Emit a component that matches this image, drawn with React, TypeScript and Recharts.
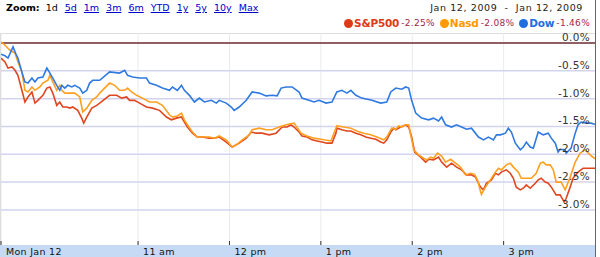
import React from "react";
import { LineChart, Line, XAxis, YAxis, CartesianGrid, ReferenceLine } from "recharts";

// minutes since 9:30 and % change
const spTime = [0,2.6,4.6,7.2,9.2,11.1,13.7,15.7,17.7,20.3,22.3,24.2,27.5,30.1,32.1,34.0,36.6,38.6,40.6,43.2,45.2,47.1,50.4,53.0,54.3,56.3,59.6,62.8,64.8,71.3,75.9,79.2,82.5,84.4,87.7,91.0,95.5,99.5,104.1,108.6,111.9,115.2,118.5,120.4,122.4,125.7,128.9,132.2,136.8,140.1,143.3,147.9,151.8,156.4,161.0,164.3,167.5,171.5,176.0,180.6,184.6,187.8,190.4,192.4,195.7,197.6,200.9,204.2,207.5,210.7,214.0,217.3,219.9,220.5,223.8,227.1,229.7,233.0,236.3,239.5,242.8,246.1,249.3,251.3,253.3,255.9,257.9,259.2,262.4,265.7,267.7,269.6,271.6,275.5,278.8,280.8,284.0,287.3,289.3,292.6,295.8,299.1,302.4,305.6,308.9,311.5,314.8,316.8,318.7,322.0,324.6,326.6,328.5,331.8,334.4,336.4,338.3,341.0,342.9,344.9,347.5,350.8,352.7,354.7,357.3,359.3,361.3,364.5,367.1,369.8,371.1,373.7,375.6,378.9,382.2,385.5,390];
const spPct = [-0.27,-0.34,-0.45,-0.43,-0.49,-0.58,-0.85,-1.06,-0.97,-0.88,-1.08,-1.03,-0.94,-0.81,-0.79,-0.90,-1.12,-1.06,-1.15,-1.15,-1.17,-1.15,-1.21,-1.35,-1.44,-1.33,-1.17,-1.12,-1.08,-0.94,-0.94,-0.99,-0.97,-1.03,-1.03,-1.08,-1.15,-1.17,-1.21,-1.33,-1.38,-1.35,-1.33,-1.42,-1.51,-1.62,-1.69,-1.69,-1.71,-1.71,-1.69,-1.78,-1.87,-1.80,-1.71,-1.60,-1.62,-1.62,-1.65,-1.62,-1.51,-1.51,-1.47,-1.51,-1.60,-1.67,-1.69,-1.74,-1.76,-1.78,-1.80,-1.80,-1.62,-1.53,-1.56,-1.58,-1.58,-1.62,-1.65,-1.69,-1.71,-1.73,-1.78,-1.80,-1.74,-1.60,-1.53,-1.56,-1.51,-1.47,-1.51,-1.69,-1.96,-2.05,-2.14,-2.09,-2.10,-2.05,-2.14,-2.23,-2.16,-2.23,-2.28,-2.37,-2.37,-2.41,-2.59,-2.64,-2.52,-2.46,-2.34,-2.37,-2.32,-2.28,-2.34,-2.43,-2.59,-2.64,-2.61,-2.55,-2.61,-2.52,-2.46,-2.43,-2.50,-2.52,-2.59,-2.73,-2.73,-2.86,-2.79,-2.59,-2.43,-2.32,-2.25,-2.25,-2.25];

const nasdTime = [0,2.6,5.9,9.2,11.1,13.7,15.7,17.7,20.3,22.3,25.5,27.5,30.8,32.1,34.0,36.6,38.6,39.9,41.9,45.2,48.4,51.7,53.7,56.3,59.6,62.8,64.8,71.3,74.6,77.9,81.2,83.1,85.7,89.0,92.9,97.5,102.1,106.0,110.6,112.6,115.8,118.5,120.4,122.4,125.7,128.9,132.2,136.8,140.1,143.3,147.9,151.8,154.5,158.4,163.0,164.9,169.5,174.1,178.0,182.6,187.2,192.4,197.0,200.9,205.5,210.1,216.6,220.5,225.1,229.7,233.6,238.2,242.8,246.7,251.3,253.3,256.5,259.2,261.1,263.1,265.7,267.7,269.0,271.0,274.2,277.5,279.5,282.1,284.0,286.6,289.3,291.9,295.2,298.4,301.7,305.0,308.2,310.9,312.8,315.4,318.1,321.3,324.6,326.6,328.5,331.8,334.4,336.4,339.7,341.6,344.9,348.2,351.4,354.1,356.0,358.0,360.6,362.6,364.5,367.8,370.4,373.7,377.0,380.2,383.5,386.8,390];
const nasdPct = [0.02,-0.04,-0.13,-0.18,-0.34,-0.52,-0.85,-0.88,-0.79,-0.85,-0.79,-0.72,-0.67,-0.58,-0.70,-0.85,-0.76,-0.85,-0.90,-0.90,-0.90,-0.97,-1.24,-1.17,-1.03,-0.97,-0.90,-0.72,-0.76,-0.85,-0.85,-0.81,-0.88,-0.94,-0.99,-1.06,-1.06,-1.12,-1.29,-1.33,-1.31,-1.26,-1.38,-1.47,-1.60,-1.69,-1.69,-1.69,-1.71,-1.67,-1.74,-1.87,-1.83,-1.74,-1.65,-1.56,-1.53,-1.56,-1.56,-1.51,-1.47,-1.44,-1.62,-1.67,-1.71,-1.73,-1.76,-1.49,-1.51,-1.53,-1.58,-1.62,-1.65,-1.69,-1.74,-1.69,-1.53,-1.55,-1.49,-1.51,-1.47,-1.47,-1.65,-1.92,-2.01,-2.07,-2.10,-2.05,-2.07,-1.98,-2.03,-2.14,-2.09,-2.16,-2.23,-2.37,-2.34,-2.36,-2.46,-2.72,-2.59,-2.46,-2.32,-2.25,-2.28,-2.19,-2.16,-2.23,-2.32,-2.43,-2.43,-2.43,-2.34,-2.16,-2.14,-2.19,-2.19,-2.28,-2.50,-2.50,-2.64,-2.41,-2.14,-1.98,-1.92,-2.01,-2.08];

const dowTime = [0,2.6,4.6,7.9,9.8,11.1,13.7,15.7,17.7,20.3,22.3,24.2,27.5,30.1,32.1,34.0,36.6,38.6,39.9,41.9,43.8,46.5,48.4,51.7,53.7,56.3,58.2,60.2,64.8,71.3,77.9,81.2,83.1,86.4,91.0,95.5,97.5,102.1,106.0,110.6,112.6,115.8,118.5,120.4,123.7,127.0,130.2,133.5,138.1,141.4,143.3,147.9,151.2,153.1,156.4,161.0,164.9,169.5,174.1,178.0,181.3,183.9,187.2,191.1,195.7,197.6,202.2,205.5,208.8,213.4,217.3,220.5,223.8,227.1,229.7,233.0,236.9,243.5,249.3,253.3,255.9,259.2,263.1,265.7,267.7,269.6,272.3,276.2,280.8,284.0,287.3,289.3,291.9,295.8,299.1,302.4,305.6,308.9,313.5,316.8,320.0,323.3,325.3,327.9,331.2,333.1,335.1,337.7,341.0,342.9,344.9,347.5,349.5,352.7,356.0,359.3,361.3,363.9,365.8,367.1,370.4,371.1,374.3,377.0,378.9,380.9,384.2,387.4,390];
const dowPct = [-0.20,-0.23,-0.27,-0.07,-0.20,-0.27,-0.52,-0.70,-0.72,-0.63,-0.70,-0.63,-0.61,-0.45,-0.54,-0.63,-0.76,-0.85,-0.76,-0.81,-0.76,-0.79,-0.76,-0.81,-0.90,-0.85,-0.72,-0.67,-0.67,-0.52,-0.54,-0.49,-0.58,-0.61,-0.63,-0.63,-0.72,-0.76,-0.81,-0.85,-0.79,-0.85,-0.76,-0.85,-0.94,-1.06,-0.99,-1.06,-1.03,-1.08,-1.03,-1.08,-1.15,-1.21,-1.15,-1.03,-0.88,-0.90,-0.95,-0.94,-0.95,-0.81,-0.79,-0.79,-0.88,-0.99,-1.03,-1.06,-1.03,-1.08,-1.06,-0.88,-0.85,-0.90,-0.85,-0.94,-0.99,-1.03,-1.08,-1.06,-0.88,-0.81,-0.83,-0.79,-0.81,-1.03,-1.26,-1.35,-1.38,-1.35,-1.40,-1.33,-1.47,-1.51,-1.47,-1.51,-1.55,-1.53,-1.69,-1.74,-1.69,-1.74,-1.65,-1.65,-1.62,-1.53,-1.60,-1.80,-1.92,-1.87,-1.78,-1.87,-1.89,-1.60,-1.65,-1.62,-1.71,-1.80,-1.96,-1.91,-1.92,-1.98,-1.89,-1.62,-1.47,-1.42,-1.44,-1.44,-1.46];

const xTicks = [0, 90, 150, 210, 270, 330];
const xTickLabels = ["Mon Jan 12", "11 am", "12 pm", "1 pm", "2 pm", "3 pm"];
const yTicks = [0, -0.5, -1.0, -1.5, -2.0, -2.5, -3.0];
const yTickLabels = ["0.0%", "-0.5%", "-1.0%", "-1.5%", "-2.0%", "-2.5%", "-3.0%"];

const zoomLinks = ["5d", "1m", "3m", "6m", "YTD", "1y", "5y", "10y", "Max"];
const legendItems = [
  { name: "S&P500", change: "-2.25%", color: "#dd3a17" },
  { name: "Nasd", change: "-2.08%", color: "#ff9900" },
  { name: "Dow", change: "-1.46%", color: "#1e6ee0" },
];
const dateRange = "Jan 12, 2009  -  Jan 12, 2009";

const zip = (t: number[], v: number[]) => t.map((x, i) => ({ t: x, v: v[i] }));
const spData = zip(spTime, spPct);
const nasdData = zip(nasdTime, nasdPct);
const dowData = zip(dowTime, dowPct);

const FONT = "'DejaVu Sans', Verdana, sans-serif";

const XTick = (props: any) => {
  const { x, y, payload } = props;
  const idx = xTicks.indexOf(payload.value);
  return (
    <g>
      <line x1={x} x2={x} y1={y - 4} y2={y} stroke="#333" strokeWidth={1} />
      <text x={x + 5} y={y + 9.5} fontSize={9.5} fill="#111" fontFamily={FONT} letterSpacing={0.3}>
        {xTickLabels[idx]}
      </text>
    </g>
  );
};

const makeYLabel = (text: string) => (props: any) => {
  const vb = props.viewBox || {};
  return (
    <text
      x={vb.x + vb.width - 5}
      y={vb.y - 2}
      textAnchor="end"
      fontSize={10.5}
      fill="#333"
      fontFamily={FONT}
      letterSpacing={0.3}
    >
      {text}
    </text>
  );
};

export default function App() {
  return (
    <div
      style={{
        position: "absolute",
        left: 0,
        top: 0,
        width: 600,
        height: 257,
        background: "#fff",
        fontFamily: FONT,
        overflow: "hidden",
      }}
    >
      {/* header: zoom links */}
      <div
        style={{
          position: "absolute",
          left: 6,
          top: 2,
          fontSize: 9.5,
          lineHeight: "12px",
          whiteSpace: "nowrap",
          color: "#000",
        }}
      >
        <span style={{ fontWeight: "bold", marginRight: 6 }}>Zoom:</span>
        <span style={{ marginRight: 7 }}>1d</span>
        {zoomLinks.map((z) => (
          <span key={z} style={{ marginRight: 7, color: "#0000cc", textDecoration: "underline" }}>
            {z}
          </span>
        ))}
      </div>
      {/* date range */}
      <div
        style={{
          position: "absolute",
          right: 17,
          top: 2,
          fontSize: 9.5,
          lineHeight: "12px",
          whiteSpace: "pre",
          color: "#222",
          letterSpacing: 0.6,
        }}
      >
        {dateRange}
      </div>
      {/* legend */}
      <div
        style={{
          position: "absolute",
          right: 10,
          top: 16,
          height: 14,
          display: "flex",
          alignItems: "center",
          whiteSpace: "nowrap",
        }}
      >
        {legendItems.map((it, i) => (
          <div key={it.name} style={{ display: "flex", alignItems: "center", marginLeft: i === 0 ? 0 : 5 }}>
            <span
              style={{
                display: "inline-block",
                width: 9,
                height: 9,
                borderRadius: "50%",
                background: it.color,
                marginRight: 1,
              }}
            />
            <span style={{ fontWeight: "bold", fontSize: 10.5, color: it.color, letterSpacing: -0.2 }}>{it.name}</span>
            <span style={{ fontSize: 9, color: "#a01f4c", marginLeft: 2, letterSpacing: 0.3 }}>{it.change}</span>
          </div>
        ))}
      </div>
      {/* frame pieces */}
      <div style={{ position: "absolute", left: 0, top: 33, width: 595, height: 1, background: "#dcdcdc" }} />
      <div style={{ position: "absolute", left: 0, top: 33, width: 1, height: 212, background: "#cfcfcf" }} />
      <div style={{ position: "absolute", left: 0, top: 245, width: 595, height: 12, background: "#c6daf6" }} />
      <div style={{ position: "absolute", left: 595, top: 0, width: 1, height: 257, background: "#666" }} />
      <div style={{ position: "absolute", left: 0, top: 0 }}>
        <LineChart width={600} height={257} margin={{ top: 33, right: 5, bottom: 0, left: 1 }}>
          <CartesianGrid horizontal={false} verticalValues={xTicks} stroke="#ebebeb" strokeWidth={1} />
          <CartesianGrid vertical={false} horizontalValues={yTicks} stroke="#d3d3ef" strokeWidth={1.5} />
          <XAxis
            dataKey="t"
            type="number"
            domain={[0, 390]}
            ticks={xTicks}
            interval={0}
            height={12}
            axisLine={false}
            tickLine={false}
            tickSize={0}
            tickMargin={0}
            tick={<XTick />}
            allowDataOverflow
          />
          <YAxis hide type="number" domain={[-3.63, 0.18]} ticks={yTicks} allowDataOverflow />
          <ReferenceLine y={0} stroke="#763535" strokeWidth={1.5} />
          <Line data={spData} dataKey="v" type="linear" stroke="#e0461f" strokeWidth={1.6} dot={false} isAnimationActive={false} />
          <Line data={nasdData} dataKey="v" type="linear" stroke="#ffa020" strokeWidth={1.6} dot={false} isAnimationActive={false} />
          <Line data={dowData} dataKey="v" type="linear" stroke="#2f7ae0" strokeWidth={1.6} dot={false} isAnimationActive={false} />
          {yTicks.map((v, i) => (
            <ReferenceLine key={v} y={v} stroke="none" label={makeYLabel(yTickLabels[i])} />
          ))}
        </LineChart>
      </div>
    </div>
  );
}
